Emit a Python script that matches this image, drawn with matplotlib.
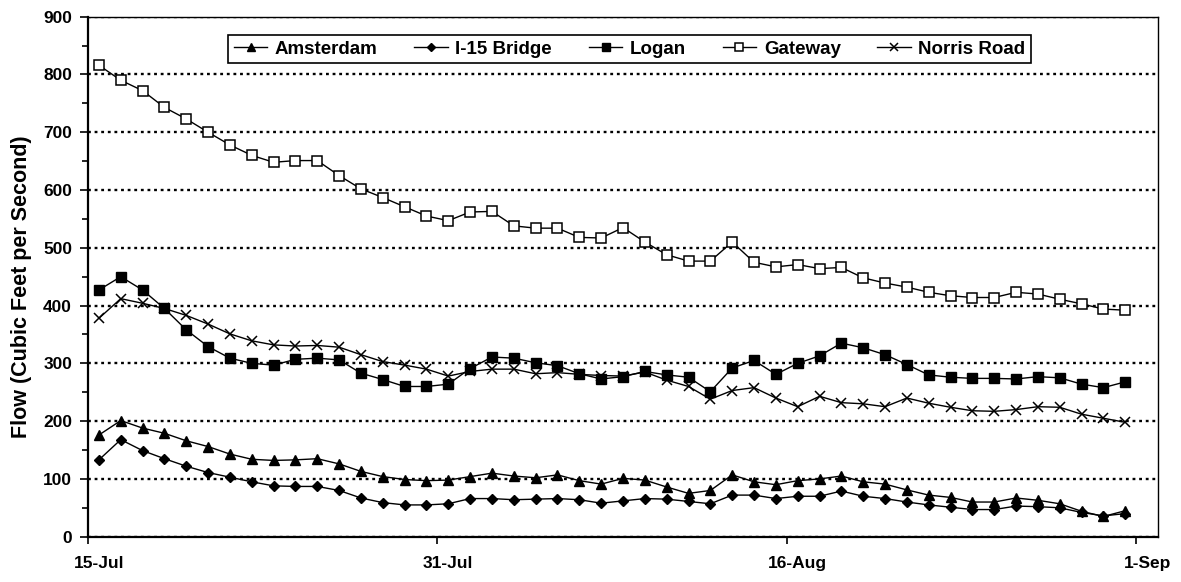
import matplotlib
matplotlib.use("Agg")
import matplotlib.pyplot as plt
import matplotlib.dates as mdates
from matplotlib.ticker import MultipleLocator, FixedLocator, FuncFormatter, NullFormatter
import pandas as pd

plt.rcParams['font.family'] = ['Liberation Sans', 'DejaVu Sans']
plt.rcParams['font.weight'] = 'bold'

# ---- data ----
dates = pd.date_range('2003-07-15', periods=48, freq='D')
amsterdam = [176, 201, 188, 179, 166, 156, 143, 134, 132, 133, 135, 126, 113, 104, 99, 97,
             98, 104, 110, 105, 102, 107, 97, 91, 101, 98, 86, 75, 80, 107, 95, 90,
             97, 100, 105, 95, 91, 81, 72, 68, 60, 60, 67, 63, 57, 44, 35, 45]
i15_bridge = [133, 168, 149, 135, 122, 111, 103, 95, 88, 87, 87, 80, 67, 59, 55, 55,
              57, 66, 66, 64, 65, 66, 64, 58, 62, 66, 65, 61, 57, 72, 72, 66,
              70, 70, 79, 70, 66, 60, 55, 51, 47, 47, 53, 52, 50, 42, 36, 40]
logan = [427, 450, 427, 395, 358, 329, 309, 300, 297, 307, 309, 306, 283, 272, 260, 260,
         264, 291, 311, 309, 301, 296, 282, 273, 277, 286, 280, 276, 251, 292, 305, 281,
         300, 313, 335, 327, 315, 298, 280, 276, 274, 274, 273, 277, 275, 264, 258, 268]
gateway = [816, 790, 772, 743, 723, 700, 678, 660, 648, 651, 651, 625, 602, 587, 571, 555,
           547, 562, 563, 538, 534, 534, 518, 517, 535, 510, 488, 477, 477, 510, 475, 467,
           471, 464, 466, 448, 439, 432, 423, 417, 414, 414, 423, 420, 411, 403, 394, 392]
norris_road = [378, 412, 404, 395, 383, 368, 351, 339, 332, 330, 331, 328, 315, 303, 297, 290,
               278, 286, 290, 290, 282, 284, 281, 279, 278, 285, 271, 260, 238, 253, 258, 240,
               225, 243, 232, 230, 225, 240, 231, 224, 218, 217, 220, 225, 224, 212, 205, 198]
tick_dates = pd.to_datetime(['2003-07-15', '2003-07-31', '2003-08-16', '2003-09-01'])
x_start, x_end = pd.Timestamp('2003-07-15'), pd.Timestamp('2003-09-02')
y_label = 'Flow (Cubic Feet per Second)'

# ---- figure ----
fig = plt.figure(figsize=(11.81, 5.82), dpi=100)
ax = fig.add_axes([88/1181, 1-536.7/582, 1070/1181, 520/582])

# points sit in the middle of each day cell (Excel "between tick marks")
xs = dates + pd.Timedelta(hours=12)

lw = 1.0
ax.plot(xs, amsterdam, color='black', lw=lw, marker='^', ms=7, mfc='black', mec='black', label='Amsterdam', zorder=3)
ax.plot(xs, i15_bridge, color='black', lw=lw, marker='D', ms=5.5, mfc='black', mec='black', label='I-15 Bridge', zorder=3)
ax.plot(xs, logan, color='black', lw=lw, marker='s', ms=6.5, mfc='black', mec='black', label='Logan', zorder=3)
ax.plot(xs, gateway, color='black', lw=lw, marker='s', ms=6.5, mfc='white', mec='black', mew=1.1, label='Gateway', zorder=3)
ax.plot(xs, norris_road, color='black', lw=lw, marker='x', ms=7, mec='black', mew=1.1, label='Norris Road', zorder=3)

ax.set_xlim(x_start, x_end)
ax.set_ylim(0, 900)

# y axis
ax.yaxis.set_major_locator(MultipleLocator(100))
ax.yaxis.set_minor_locator(MultipleLocator(50))
ax.tick_params(axis='y', which='major', direction='out', length=6, width=1.2, pad=5.5, labelsize=12.5)
ax.tick_params(axis='y', which='minor', direction='out', length=4.5, width=1.2)

# x axis: tick marks at day boundaries, labels centered in the day cell
ax.xaxis.set_major_locator(FixedLocator(mdates.date2num(tick_dates)))
ax.xaxis.set_major_formatter(NullFormatter())
ax.xaxis.set_minor_locator(FixedLocator(mdates.date2num(tick_dates + pd.Timedelta(hours=12))))
def fmt(v, pos):
    d = mdates.num2date(v)
    return f"{d.day}-{d.strftime('%b')}"
ax.xaxis.set_minor_formatter(FuncFormatter(fmt))
ax.tick_params(axis='x', which='major', direction='out', length=5, width=1.2)
ax.tick_params(axis='x', which='minor', length=0, pad=14, labelsize=12.5)

# grid
ax.yaxis.grid(True, which='major', color='black', linestyle=(0, (1.2, 1.6)), linewidth=1.7)
ax.set_axisbelow(True)

for s in ['left', 'bottom']:
    ax.spines[s].set_linewidth(1.6)
for s in ['top', 'right']:
    ax.spines[s].set_linewidth(1.0)

ax.set_ylabel(y_label, fontsize=15.5, fontweight='bold')
ax.yaxis.set_label_coords(-0.052, 0.48)

leg = ax.legend(ncol=5, loc='upper left', bbox_to_anchor=((228-88)/1070, (536.7-35)/520),
                borderaxespad=0, fancybox=False, framealpha=1, edgecolor='black',
                prop={'weight': 'bold', 'size': 13.5}, handlelength=1.8, handletextpad=0.4,
                columnspacing=1.95, borderpad=0.3, markerscale=0.8)
leg.get_frame().set_linewidth(1.2)

fig.savefig('out.png', dpi=100)
